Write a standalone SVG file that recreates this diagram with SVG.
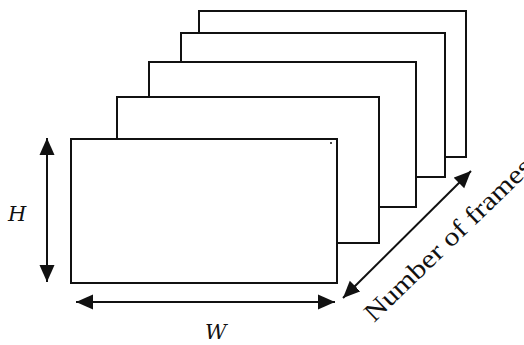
<svg xmlns="http://www.w3.org/2000/svg" width="524" height="345" viewBox="0 0 524 345">
  <style>
    .frame { fill: #ffffff; stroke: #111111; stroke-width: 2; }
    .dim { stroke: #111111; stroke-width: 2; fill: none; }
    .lbl { font-family: "DejaVu Serif", "Liberation Serif", serif; font-style: italic; font-size: 21px; fill: #111111; }
    .axis { font-family: "Liberation Serif", "DejaVu Serif", serif; font-size: 26px; fill: #111111; }
  </style>
  <defs>
    <marker id="head" markerUnits="userSpaceOnUse" markerWidth="18" markerHeight="16" refX="17" refY="8" orient="auto-start-reverse" viewBox="0 0 18 16">
      <path d="M0,0.5 L17,8 L0,15.5 z" fill="#111111"/>
    </marker>
  </defs>
  <rect width="524" height="345" fill="#ffffff"/>

  <!-- stacked frames, drawn back to front -->
  <g id="frame5"><rect class="frame" x="199" y="11" width="267" height="146"/></g>
  <g id="frame4"><rect class="frame" x="181" y="33" width="264" height="144"/></g>
  <g id="frame3"><rect class="frame" x="149" y="62" width="267" height="145"/></g>
  <g id="frame2"><rect class="frame" x="117" y="97" width="262" height="146"/></g>
  <g id="frame1">
    <rect class="frame" x="71" y="139" width="266" height="144"/>
    <circle cx="331" cy="143" r="1" fill="#111111"/>
  </g>

  <!-- dimension arrows -->
  <g id="connectors">
    <line class="dim" x1="47" y1="138" x2="47" y2="282" marker-start="url(#head)" marker-end="url(#head)"/>
    <line class="dim" x1="76" y1="302" x2="335" y2="302" marker-start="url(#head)" marker-end="url(#head)"/>
    <line class="dim" x1="343" y1="298" x2="471" y2="171" marker-start="url(#head)" marker-end="url(#head)"/>
  </g>

  <!-- labels -->
  <g id="labels">
    <text class="lbl" x="8" y="221">H</text>
    <text class="lbl" x="205" y="339">W</text>
    <text class="axis" transform="translate(374,323) rotate(-44)" textLength="222" lengthAdjust="spacingAndGlyphs">Number of frames</text>
  </g>
</svg>
